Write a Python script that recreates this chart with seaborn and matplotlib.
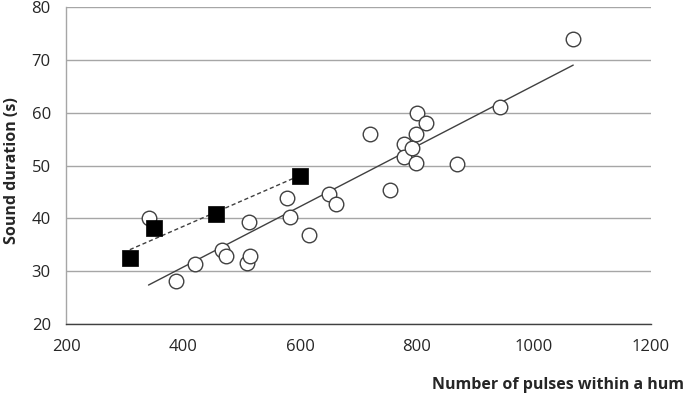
"""
Sound duration vs number of pulses within a hum.
Open circles with a solid trend line, filled squares with a dashed one.
"""

import matplotlib
matplotlib.use("Agg")
import matplotlib.pyplot as plt
import numpy as np
import pandas as pd
import seaborn as sns

# ---------------------------------------------------------------------------
# Data
# ---------------------------------------------------------------------------

circle_pulses = [341, 420, 388, 467, 473, 509, 515, 512, 577, 582, 616, 649,
                 662, 720, 753, 778, 778, 791, 798, 798, 800, 815, 869, 941,
                 1067]
circle_duration = [40.0, 31.4, 28.1, 34.1, 32.8, 31.5, 32.8, 39.3, 43.8, 40.2,
                   36.9, 44.7, 42.7, 56.0, 45.3, 54.1, 51.7, 53.4, 50.5, 56.0,
                   60.0, 58.0, 50.3, 61.0, 73.9]

square_pulses = [309, 350, 456, 600]
square_duration = [32.4, 38.2, 40.8, 48.0]

x_ticks = [200, 400, 600, 800, 1000, 1200]
y_ticks = [20, 30, 40, 50, 60, 70, 80]

circles = pd.DataFrame({"pulses": circle_pulses, "duration": circle_duration})
squares = pd.DataFrame({"pulses": square_pulses, "duration": square_duration})

# ---------------------------------------------------------------------------
# Plot
# ---------------------------------------------------------------------------

sns.set_style("white")
plt.rcParams["font.family"] = ["Open Sans", "DejaVu Sans"]

LINE_COL = "#404040"
GRID_COL = "#a6a6a6"
TEXT_COL = "#262626"

fig = plt.figure(figsize=(6.85, 4.03), dpi=100)
ax = fig.add_axes([0.0964, 0.196, 0.854, 0.7866])

# trend lines (least-squares fits over each group's range)
sns.regplot(data=circles, x="pulses", y="duration", scatter=False, ci=None,
            color=LINE_COL, line_kws={"lw": 1.0}, ax=ax)
sns.regplot(data=squares, x="pulses", y="duration", scatter=False, ci=None,
            color=LINE_COL, line_kws={"lw": 1.0, "ls": (0, (3, 2))}, ax=ax)

sns.scatterplot(data=circles, x="pulses", y="duration", marker="o", s=110,
                facecolor="white", edgecolor=LINE_COL, linewidth=1.0,
                zorder=3, ax=ax)
sns.scatterplot(data=squares, x="pulses", y="duration", marker="s", s=130,
                color="black", edgecolor="black", linewidth=0.5,
                zorder=4, ax=ax)

ax.set_xlim(x_ticks[0], x_ticks[-1])
ax.set_ylim(y_ticks[0], y_ticks[-1])
ax.set_xticks(x_ticks)
ax.set_yticks(y_ticks)
ax.tick_params(axis="both", labelsize=12, colors=GRID_COL, labelcolor=TEXT_COL,
               length=5, width=1, direction="out", pad=6)
ax.tick_params(axis="x", colors=LINE_COL, labelcolor=TEXT_COL, pad=6)
ax.grid(axis="y", color=GRID_COL, lw=1.0)
ax.set_axisbelow(True)

for side in ["top", "right"]:
    ax.spines[side].set_visible(False)
ax.spines["left"].set_color(GRID_COL)
ax.spines["bottom"].set_color(LINE_COL)
for side in ["left", "bottom"]:
    ax.spines[side].set_linewidth(1.0)

ax.set_xlabel("")
ax.set_ylabel("")
fig.text(0.018, 0.578, "Sound duration (s)", rotation=90, ha="center",
         va="center", fontsize=11.5, fontweight="bold", color=TEXT_COL)
fig.text(0.999, 0.045, "Number of pulses within a hum", ha="right",
         va="center", fontsize=11.5, fontweight="bold", color=TEXT_COL)

fig.savefig("out.png", dpi=100)
